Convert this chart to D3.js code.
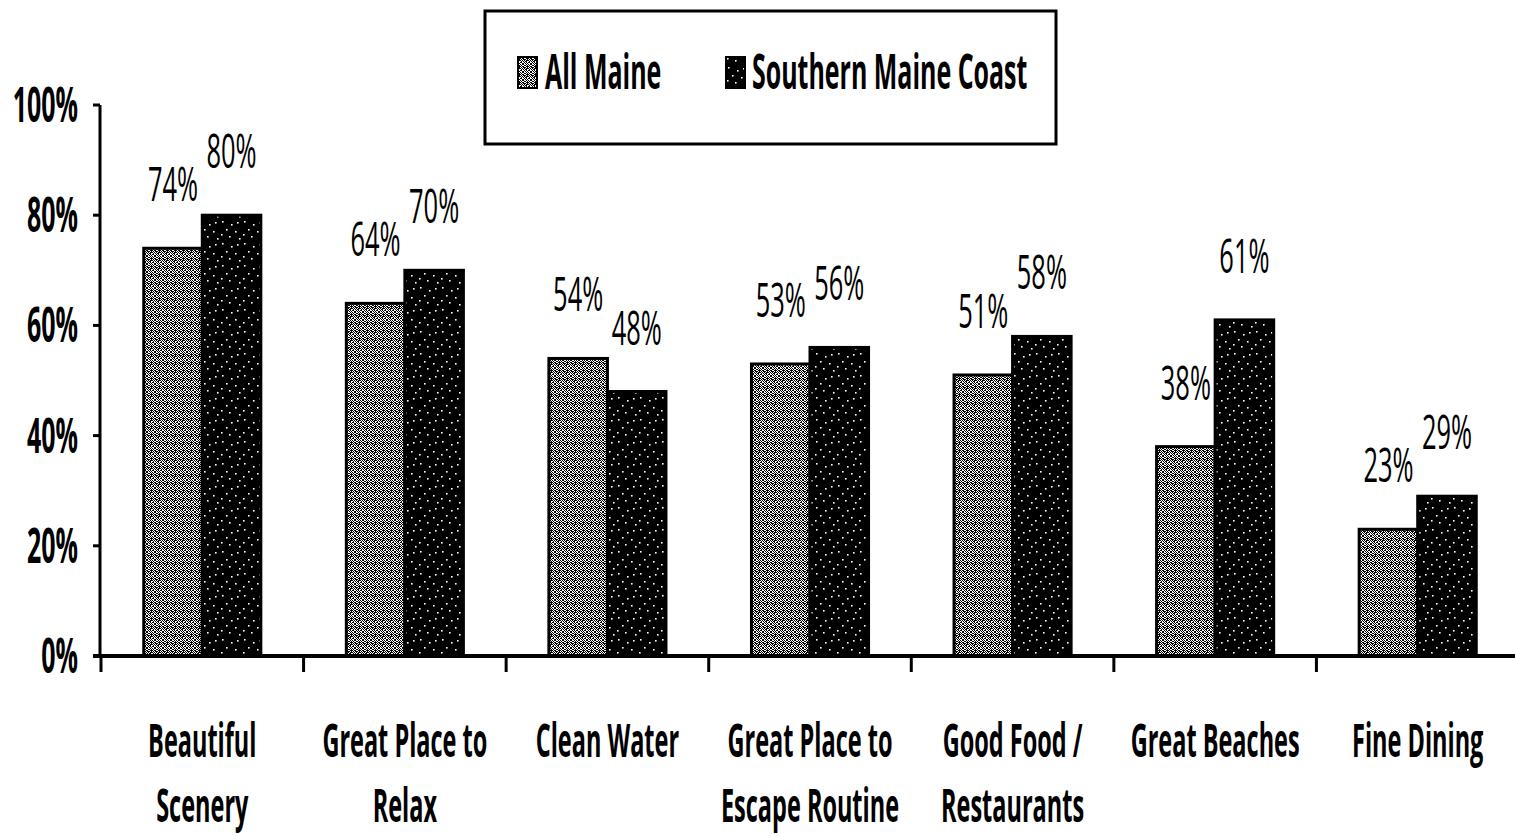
<!DOCTYPE html>
<html>
<head>
<meta charset="utf-8">
<script src="https://cdn.jsdelivr.net/npm/d3@7"></script>
<style>
  html, body { margin: 0; padding: 0; background: #fff; }
  svg { display: block; }
</style>
</head>
<body>
<svg id="chart" width="1515" height="836"></svg>
<script>
// ---- data ----
const categories = [
  ["Beautiful", "Scenery"],
  ["Great Place to", "Relax"],
  ["Clean Water"],
  ["Great Place to", "Escape Routine"],
  ["Good Food /", "Restaurants"],
  ["Great Beaches"],
  ["Fine Dining"]
];
const seriesNames = ["All Maine", "Southern Maine Coast"];
const allMaine = [74, 64, 54, 53, 51, 38, 23];
const southernCoast = [80, 70, 48, 56, 58, 61, 29];
const yTicks = [0, 20, 40, 60, 80, 100];

// ---- setup ----
const svg = d3.select("#chart");
const FONT = "'Open Sans', 'DejaVu Sans', sans-serif";

const catKeys = categories.map((c, i) => i);
const x = d3.scaleBand().domain(catKeys).range([101, 1519]).padding(0);
const y = d3.scaleLinear().domain([0, 100]).range([656, 105]);
const barW = x.bandwidth() * 0.289;

// patterns
const defs = svg.append("defs");
// All Maine: grey noisy texture
const p1 = defs.append("pattern").attr("id", "patAll").attr("patternUnits", "userSpaceOnUse")
  .attr("width", 8).attr("height", 8);
p1.append("rect").attr("width", 8).attr("height", 8).attr("fill", "#fff");
const noisePix = [
  [0,0],[2,0],[3,0],[6,0],
  [1,1],[4,1],[5,1],[7,1],
  [0,2],[2,2],[3,2],[6,2],[7,2],
  [1,3],[3,3],[4,3],[5,3],[7,3],
  [0,4],[2,4],[4,4],[6,4],[7,4],
  [1,5],[3,5],[5,5],[6,5],
  [0,6],[1,6],[4,6],[6,6],
  [2,7],[3,7],[5,7],[7,7]
];
p1.selectAll("rect.px").data(noisePix).join("rect").attr("class", "px")
  .attr("x", d => d[0]).attr("y", d => d[1]).attr("width", 1).attr("height", 1).attr("fill", "#000");
// Southern: black with sparse white dots
const p2 = defs.append("pattern").attr("id", "patSouth").attr("patternUnits", "userSpaceOnUse")
  .attr("width", 22).attr("height", 22);
p2.append("rect").attr("width", 22).attr("height", 22).attr("fill", "#000");
const dotPix = [[2,1],[11,4],[17,2],[6,9],[15,11],[1,14],[9,16],[19,18]];
p2.selectAll("rect.px").data(dotPix).join("rect").attr("class", "px")
  .attr("x", d => d[0]).attr("y", d => d[1]).attr("width", 1.6).attr("height", 1.6).attr("fill", "#fff");

function stext(parent, tx, ty, str, size, weight, anchor, sx) {
  return parent.append("text")
    .attr("transform", `translate(${tx},${ty}) scale(${sx},1)`)
    .attr("text-anchor", anchor || "middle")
    .attr("font-family", FONT)
    .attr("font-size", size)
    .attr("font-weight", weight)
    .attr("fill", "#000")
    .text(str);
}

// ---- y axis ----
const yAxis = svg.append("g");
yAxis.append("line").attr("x1", 100).attr("x2", 100).attr("y1", y(100)).attr("y2", y(0))
  .attr("stroke", "#000").attr("stroke-width", 3);
yTicks.forEach(t => {
  yAxis.append("line").attr("x1", 93).attr("x2", 100).attr("y1", y(t)).attr("y2", y(t))
    .attr("stroke", "#000").attr("stroke-width", 3);
  stext(yAxis, 78, y(t) + 17, t + "%", 48, 700, "end", 0.52);
});

// ---- bars ----
const groups = svg.append("g").selectAll("g").data(catKeys).join("g");
groups.each(function(i) {
  const g = d3.select(this);
  const cx = x(i) + x.bandwidth() / 2;
  const vals = [allMaine[i], southernCoast[i]];
  vals.forEach((v, k) => {
    const bx = k === 0 ? cx - barW : cx;
    g.append("rect")
      .attr("x", bx).attr("y", y(v)).attr("width", barW).attr("height", y(0) - y(v))
      .attr("fill", k === 0 ? "url(#patAll)" : "url(#patSouth)")
      .attr("stroke", "#000").attr("stroke-width", 3);
    stext(g, bx + barW / 2, y(v) - 47, v + "%", 48, 400, "middle", 0.53);
  });
});

// ---- x axis ----
const xAxis = svg.append("g");
xAxis.append("line").attr("x1", 93).attr("x2", 1515).attr("y1", y(0)).attr("y2", y(0))
  .attr("stroke", "#000").attr("stroke-width", 4);
catKeys.forEach(i => {
  xAxis.append("line").attr("x1", x(i)).attr("x2", x(i)).attr("y1", y(0)).attr("y2", y(0) + 16)
    .attr("stroke", "#000").attr("stroke-width", 3);
  const cx = x(i) + x.bandwidth() / 2;
  categories[i].forEach((line, j) => {
    stext(xAxis, cx, 757 + j * 65, line, 47, 700, "middle", 0.5);
  });
});

// ---- legend ----
const leg = svg.append("g");
leg.append("rect").attr("x", 485).attr("y", 11).attr("width", 571).attr("height", 133)
  .attr("fill", "#fff").attr("stroke", "#000").attr("stroke-width", 3);
const legItems = [
  { name: seriesNames[0], fill: "url(#patAll)", sx: 518, tx: 545 },
  { name: seriesNames[1], fill: "url(#patSouth)", sx: 726, tx: 752 }
];
legItems.forEach(d => {
  leg.append("rect").attr("x", d.sx).attr("y", 57).attr("width", 19).attr("height", 31)
    .attr("fill", d.fill).attr("stroke", "#000").attr("stroke-width", 2);
  stext(leg, d.tx, 89, d.name, 48, 700, "start", 0.52);
});
</script>
</body>
</html>
